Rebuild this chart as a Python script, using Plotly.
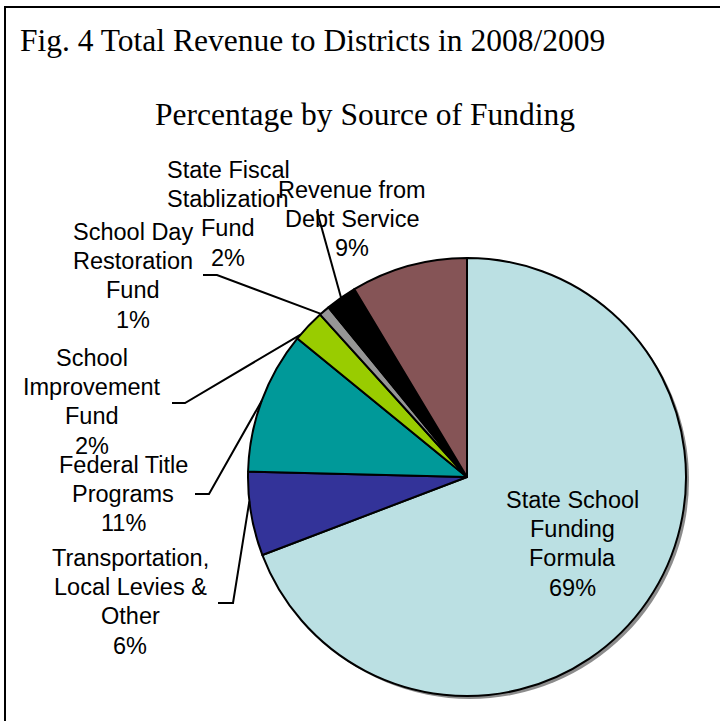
import math
import plotly.graph_objects as go

# ---------------- data ----------------
categories = [
    "State School Funding Formula",
    "Transportation, Local Levies & Other",
    "Federal Title Programs",
    "School Improvement Fund",
    "School Day Restoration Fund",
    "State Fiscal Stablization Fund",
    "Revenue from Debt Service",
]
values = [69.2, 6.2, 10.5, 2.4, 0.8, 2.3, 8.6]
pct_labels = ["69%", "6%", "11%", "2%", "1%", "2%", "9%"]
label_lines = [
    ["State School", "Funding", "Formula"],
    ["Transportation,", "Local Levies &", "Other"],
    ["Federal Title", "Programs"],
    ["School", "Improvement", "Fund"],
    ["School Day", "Restoration", "Fund"],
    ["State Fiscal", "Stablization", "Fund"],
    ["Revenue from", "Debt Service"],
]
colors = ["#BBE0E3", "#333399", "#009999", "#99CC00", "#969696", "#000000", "#855456"]

title_text = "Fig. 4 Total Revenue to Districts in 2008/2009"
subtitle_text = "Percentage by Source of Funding"

# ---------------- layout geometry (pixels) ----------------
W, H = 720, 721
CX, CY, R = 467, 477, 219
SH = 3  # shadow offset
LINE_H = 29.2

# label first-line centres (px)
label_pos = [(572, 500), (130, 558), (123, 465), (92, 358), (133, 232), (228, 170), (352, 190)]
# leader lines: (start points in px, fraction along slice for tip)
leaders = {
    1: ([(218, 603), (233, 603)], 0.65),
    2: ([(195, 494), (209, 494)], 0.5),
    3: ([(172, 403), (185, 403)], 0.15),
    4: ([(203, 275), (217, 275)], 0.1),
    5: ([(317, 211)], 0.5),
}


def px(x):
    return x / W


def py(y):
    return 1 - y / H


fig = go.Figure()

# shadow
fig.add_trace(go.Pie(
    values=[1], labels=["shadow"], marker=dict(colors=["#8c8c8c"], line=dict(width=0)),
    textinfo="none", hoverinfo="skip", showlegend=False, sort=False,
    domain=dict(x=[px(CX + SH - R), px(CX + SH + R)], y=[py(CY + SH + R), py(CY + SH - R)]),
))

fig.add_trace(go.Pie(
    labels=categories, values=values,
    marker=dict(colors=colors, line=dict(color="black", width=2)),
    sort=False, direction="clockwise", rotation=0,
    textinfo="none", showlegend=False,
    domain=dict(x=[px(CX - R), px(CX + R)], y=[py(CY + R), py(CY - R)]),
))

annotations = []
lab_font = dict(family="Liberation Sans, Arial, sans-serif", size=23.5, color="black")
for i, (lines, pct) in enumerate(zip(label_lines, pct_labels)):
    x, y = label_pos[i]
    for k, ln in enumerate(lines + [pct]):
        annotations.append(dict(
            text=ln, x=px(x), y=py(y + k * LINE_H), xref="paper", yref="paper",
            xanchor="center", yanchor="middle", showarrow=False, align="center", font=lab_font,
        ))

serif = "Liberation Serif, Times New Roman, serif"
annotations.append(dict(
    text=title_text, x=px(18), y=py(41), xref="paper", yref="paper",
    xanchor="left", yanchor="middle", showarrow=False,
    font=dict(family=serif, size=31.5, color="black"),
))
annotations.append(dict(
    text=subtitle_text, x=px(365), y=py(114), xref="paper", yref="paper",
    xanchor="center", yanchor="middle", showarrow=False,
    font=dict(family=serif, size=31.5, color="black"),
))

shapes = []
total = sum(values)
cum = 0.0
starts = []
for v in values:
    starts.append(cum)
    cum += v
for idx, (pts, frac) in leaders.items():
    ang = math.radians((starts[idx] + frac * values[idx]) / total * 360.0)
    tip = (CX + R * math.sin(ang), CY - R * math.cos(ang))
    allp = pts + [tip]
    path = "M " + " L ".join(f"{px(a):.5f},{py(b):.5f}" for a, b in allp)
    shapes.append(dict(type="path", path=path, xref="paper", yref="paper",
                       line=dict(color="black", width=2)))

# outer frame
shapes.append(dict(type="rect", xref="paper", yref="paper", x0=px(5), y0=py(7), x1=1.05, y1=-0.05,
                   line=dict(color="black", width=2), fillcolor="rgba(0,0,0,0)"))

fig.update_layout(
    width=W, height=H, margin=dict(l=0, r=0, t=0, b=0),
    paper_bgcolor="white", plot_bgcolor="white",
    annotations=annotations, shapes=shapes, showlegend=False,
)

fig.write_html("out.html")
